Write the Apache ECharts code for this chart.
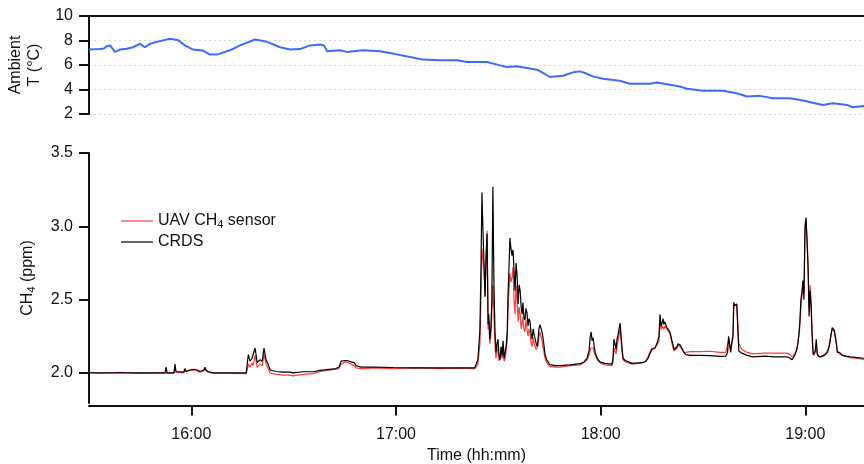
<!DOCTYPE html>
<html>
<head>
<meta charset="utf-8">
<script src="https://cdn.jsdelivr.net/npm/echarts@6/dist/echarts.min.js"></script>
<style>
  html, body { margin: 0; padding: 0; background: #fff; }
  #chart { width: 864px; height: 464px; }
</style>
</head>
<body>
<div id="chart"></div>
<script>
// Time is in minutes after 15:00.
const tempTime = [30.0, 33.2, 34.4, 35.3, 36.2, 37.0, 37.6, 39.1, 41.1, 42.9, 44.9, 46.4, 47.9, 50.8, 53.7, 56.1, 58.1,
  60.5, 63.4, 65.5, 67.5, 71.3, 74.3, 78.7, 82.2, 86.0, 88.9, 91.8, 94.8, 97.7, 98.9, 99.8, 103.6, 105.6, 110.3,
  115.3, 119.1, 124.1, 127.9, 132.9, 137.9, 140.8, 146.7, 150.5, 152.5, 155.4, 161.3, 163.1, 165.1, 168.9, 171.9,
  173.9, 175.4, 177.7, 180.7, 185.6, 188.6, 194.4, 196.5, 200.3, 203.2, 205.3, 210.0, 215.8, 219.9, 222.9, 226.7,
  230.5, 235.5, 239.3, 245.1, 248.1, 252.2, 253.9, 257.2];
const tempC = [7.26, 7.3, 7.35, 7.55, 7.6, 7.3, 7.07, 7.26, 7.32, 7.45, 7.73, 7.45, 7.73, 7.95, 8.14, 8.03, 7.6,
  7.26, 7.18, 6.85, 6.85, 7.2, 7.6, 8.08, 7.89, 7.45, 7.26, 7.3, 7.6, 7.67, 7.6, 7.12, 7.2, 7.07, 7.2,
  7.12, 6.93, 6.66, 6.44, 6.39, 6.39, 6.25, 6.25, 5.97, 5.84, 5.89, 5.62, 5.35, 5.02, 5.12, 5.4,
  5.48, 5.35, 5.07, 4.88, 4.72, 4.47, 4.47, 4.58, 4.38, 4.25, 4.06, 3.89, 3.89, 3.7, 3.43, 3.48,
  3.29, 3.29, 3.1, 2.74, 2.88, 2.74, 2.55, 2.66];

const ch4Time = [30.0, 33.2, 39.1, 44.9, 51.7, 52.3, 52.6, 52.9, 54.9, 55.2, 55.5, 55.8, 57.8, 58.1, 58.4, 59.6,
  60.8, 61.7, 62.5, 63.7, 64.0, 64.3, 64.9, 66.3, 71.3, 76.1, 76.4, 76.7, 77.2, 77.8, 78.1, 78.7, 79.3, 80.2,
  80.8, 81.3, 81.9, 82.5, 83.1, 84.9, 86.9, 88.9, 89.8, 92.8, 95.7, 97.8, 102.4, 103.3, 103.9, 105.1, 106.0,
  106.8, 107.7, 108.3, 109.8, 110.9, 113.3, 119.2, 125.0, 132.9, 138.7, 143.1,
  144.0, 144.6, 144.9, 145.2, 145.5, 145.8, 146.1, 146.4, 146.7, 147.0, 147.2, 147.5, 147.8, 148.1, 148.4,
  148.7, 149.0, 149.3, 149.6, 149.9, 150.2, 150.5, 150.8, 151.1, 151.4, 151.7, 152.0, 152.3, 152.6, 152.8,
  153.1, 153.4, 153.7, 154.0, 154.3, 154.6, 154.9, 155.2, 155.5, 155.8, 156.1, 156.4, 156.7, 157.0, 157.2,
  157.5, 157.8, 158.1, 158.4, 158.7, 159.0, 159.3, 159.6, 159.9, 160.2, 160.5, 160.8, 161.1, 161.4, 161.6,
  161.9, 162.2, 162.5, 162.8, 163.1, 163.7, 164.2, 165.1, 166.6, 168.0, 171.0, 173.9, 175.1, 176.0, 176.6,
  176.9, 177.2, 177.5, 177.8, 178.1, 178.4, 179.0, 179.8, 181.2, 183.3, 183.6, 183.9, 184.2, 184.5, 184.8,
  185.1, 185.4, 185.7, 186.0, 186.3, 186.6, 187.2, 187.7, 189.2, 192.4, 193.3, 193.9, 194.4, 195.0, 195.9,
  196.5, 197.1, 197.4, 197.7, 198.0, 198.3, 198.5, 198.8, 199.4, 199.7, 200.3, 200.9, 201.5, 201.8, 202.4,
  202.7, 203.3, 203.8, 204.4, 205.0, 206.2, 209.1, 212.0, 214.9, 216.7, 217.2, 217.5, 217.8, 218.1, 218.4,
  218.8, 219.0, 219.3, 219.6, 219.9, 220.2, 220.5, 221.4, 222.9, 224.6, 228.1, 231.1, 234.6, 235.5, 236.1,
  236.9, 237.5, 237.8, 238.1, 238.4, 238.7, 239.0, 239.3, 239.6, 239.9, 240.2, 240.5, 240.8, 241.1, 241.4,
  241.7, 242.0, 242.3, 242.6, 242.9, 243.2, 243.5, 243.8, 244.4, 245.6, 246.5, 247.0, 247.6, 247.9, 248.2,
  248.5, 249.1, 249.4, 250.0, 250.3, 250.9, 251.7, 253.2, 255.3, 257.2];

const crdsPpm = [2.0, 2.0, 2.001, 2.0, 2.0, 2.0, 2.04, 2.0, 2.0, 2.06, 2.01, 2.0, 2.005, 2.03, 2.01, 2.02,
  2.025, 2.02, 2.01, 2.02, 2.04, 2.02, 2.01, 2.0, 2.0, 2.0, 2.0, 2.125, 2.08, 2.1, 2.09, 2.17, 2.07, 2.09,
  2.08, 2.17, 2.09, 2.06, 2.02, 2.01, 2.005, 2.005, 2.0, 2.008, 2.008, 2.018, 2.03, 2.04, 2.08, 2.085, 2.083,
  2.075, 2.07, 2.05, 2.04, 2.04, 2.04, 2.037, 2.035, 2.035, 2.035, 2.035,
  2.09, 2.29, 2.7, 3.23, 2.97, 2.75, 2.52, 2.8, 2.95, 2.33, 2.4, 2.23, 2.3, 2.5, 3.27,
  2.63, 2.3, 2.14, 2.2, 2.23, 2.12, 2.09, 2.18, 2.12, 2.22, 2.1, 2.14, 2.19, 2.27, 2.5,
  2.7, 2.92, 2.85, 2.8, 2.84, 2.7, 2.56, 2.75, 2.67, 2.47, 2.6, 2.56, 2.45, 2.4, 2.48,
  2.38, 2.36, 2.44, 2.41, 2.32, 2.37, 2.35, 2.27, 2.23, 2.3, 2.26, 2.25, 2.2, 2.18, 2.22,
  2.3, 2.33, 2.32, 2.28, 2.24, 2.125, 2.09, 2.057, 2.05, 2.05, 2.055, 2.063, 2.075, 2.1, 2.15,
  2.24, 2.28, 2.22, 2.24, 2.18, 2.14, 2.1, 2.075, 2.065, 2.06, 2.1, 2.23, 2.2, 2.16, 2.23,
  2.26, 2.3, 2.34, 2.25, 2.16, 2.1, 2.085, 2.08, 2.065, 2.07, 2.08, 2.1, 2.13, 2.16, 2.17,
  2.2, 2.25, 2.4, 2.32, 2.34, 2.37, 2.33, 2.35, 2.31, 2.32, 2.28, 2.22, 2.16, 2.15, 2.18,
  2.2, 2.19, 2.17, 2.14, 2.125, 2.12, 2.12, 2.118, 2.113, 2.115, 2.14, 2.25, 2.2, 2.14, 2.2,
  2.26, 2.48, 2.46, 2.45, 2.47, 2.3, 2.15, 2.135, 2.12, 2.11, 2.115, 2.11, 2.11, 2.1, 2.09,
  2.12, 2.16, 2.2, 2.26, 2.35, 2.5, 2.55, 2.63, 2.5, 3.0, 3.06, 2.9, 2.72, 2.385, 2.56,
  2.45, 2.25, 2.125, 2.12, 2.15, 2.23, 2.13, 2.115, 2.11, 2.12, 2.14, 2.18, 2.27, 2.31, 2.3,
  2.29, 2.2, 2.14, 2.14, 2.15, 2.12, 2.115, 2.11, 2.105, 2.1];

const uavPpm = [2.003, 1.998, 2.004, 1.997, 2.0, 1.998, 2.01, 2.0, 1.998, 2.03, 2.005, 2.0, 2.0, 2.015, 2.005, 2.015,
  2.02, 2.015, 2.005, 2.015, 2.03, 2.015, 2.005, 1.998, 1.997, 1.995, 1.995, 2.06, 2.04, 2.07, 2.05, 2.12, 2.04, 2.06,
  2.05, 2.13, 2.06, 2.03, 2.0, 1.99, 1.985, 1.985, 1.98, 1.99, 1.995, 2.01, 2.025, 2.03, 2.06, 2.075, 2.07,
  2.06, 2.05, 2.035, 2.03, 2.03, 2.035, 2.03, 2.035, 2.03, 2.032, 2.03,
  2.06, 2.2, 2.5, 2.85, 2.86, 2.7, 2.52, 2.75, 2.97, 2.3, 2.35, 2.2, 2.25, 2.4, 2.6,
  2.4, 2.2, 2.1, 2.15, 2.18, 2.08, 2.07, 2.13, 2.1, 2.15, 2.08, 2.1, 2.15, 2.22, 2.4,
  2.55, 2.68, 2.62, 2.65, 2.72, 2.5, 2.4, 2.6, 2.5, 2.35, 2.45, 2.4, 2.3, 2.3, 2.38,
  2.3, 2.28, 2.36, 2.3, 2.25, 2.3, 2.28, 2.2, 2.18, 2.24, 2.2, 2.2, 2.16, 2.15, 2.18,
  2.24, 2.28, 2.27, 2.22, 2.18, 2.1, 2.07, 2.045, 2.04, 2.04, 2.05, 2.055, 2.07, 2.09, 2.12,
  2.15, 2.17, 2.16, 2.17, 2.14, 2.12, 2.09, 2.07, 2.055, 2.05, 2.07, 2.17, 2.15, 2.13, 2.18,
  2.22, 2.26, 2.3, 2.22, 2.13, 2.09, 2.075, 2.07, 2.06, 2.07, 2.085, 2.11, 2.14, 2.17, 2.17,
  2.19, 2.22, 2.34, 2.3, 2.32, 2.33, 2.3, 2.32, 2.3, 2.3, 2.27, 2.2, 2.15, 2.14, 2.17,
  2.19, 2.18, 2.16, 2.14, 2.14, 2.145, 2.145, 2.148, 2.14, 2.14, 2.15, 2.22, 2.19, 2.15, 2.19,
  2.24, 2.44, 2.46, 2.45, 2.46, 2.35, 2.2, 2.16, 2.14, 2.13, 2.135, 2.135, 2.135, 2.125, 2.11,
  2.13, 2.16, 2.2, 2.25, 2.32, 2.45, 2.52, 2.6, 2.55, 2.95, 3.03, 2.92, 2.75, 2.45, 2.6,
  2.48, 2.28, 2.14, 2.12, 2.14, 2.18, 2.13, 2.115, 2.11, 2.125, 2.15, 2.19, 2.27, 2.3, 2.3,
  2.28, 2.2, 2.15, 2.13, 2.14, 2.12, 2.115, 2.105, 2.1, 2.09];

const hourTicks = [60, 120, 180, 240];
const ppmTicks = [2.0, 2.5, 3.0, 3.5];
const tempTicks = [2, 4, 6, 8, 10];

const FONT = 'Liberation Sans, Arial, sans-serif';
const INK = '#111';

function zip(xs, ys) { return xs.map((x, i) => [x, ys[i]]); }
function clock(m) {
  const h = 15 + Math.floor(m / 60);
  const mm = Math.round(m % 60);
  return h + ':' + String(mm).padStart(2, '0');
}

const timeRange = { min: 30, max: 257.2 };
const axisLineStyle = { color: INK, width: 2 };

const chart = echarts.init(document.getElementById('chart'), null, { renderer: 'canvas' });
chart.setOption({
  animation: false,
  backgroundColor: '#fff',
  textStyle: { fontFamily: FONT, color: INK },
  grid: [
    { left: 89, right: 0, top: 16, height: 98, outerBoundsMode: 'none' },
    { left: 89, right: 0, top: 153, height: 250, outerBoundsMode: 'none' }
  ],
  legend: {
    data: ['UAV CH4 sensor', 'CRDS'],
    orient: 'vertical',
    left: 116,
    top: 208,
    itemGap: 4,
    itemWidth: 32,
    itemHeight: 1.2,
    icon: 'rect',
    textStyle: {
      fontFamily: FONT, fontSize: 16, color: INK,
      rich: {
        n: { fontFamily: FONT, fontSize: 16, color: INK },
        s: { fontFamily: FONT, fontSize: 11, color: INK, verticalAlign: 'bottom', padding: [7, 0, 0, 0] }
      }
    },
    formatter: name => name === 'UAV CH4 sensor' ? '{n|UAV CH}{s|4}{n| sensor}' : '{n|' + name + '}'
  },
  xAxis: [
    {
      gridIndex: 0, type: 'value', position: 'top', ...timeRange,
      axisLine: { show: true, lineStyle: axisLineStyle },
      axisTick: { show: false }, axisLabel: { show: false }, splitLine: { show: false }
    },
    {
      gridIndex: 1, type: 'value', position: 'bottom', offset: 2.5, ...timeRange,
      name: 'Time (hh:mm)', nameLocation: 'middle', nameGap: 41,
      nameTextStyle: { fontFamily: FONT, fontSize: 16, color: INK },
      axisLine: { show: true, lineStyle: axisLineStyle },
      axisTick: { show: true, customValues: hourTicks, length: 10, inside: false, lineStyle: { color: INK, width: 2 } },
      axisLabel: { customValues: hourTicks, formatter: v => clock(v), margin: 21, fontFamily: FONT, fontSize: 16, color: INK },
      splitLine: { show: false }
    }
  ],
  yAxis: [
    {
      gridIndex: 0, type: 'value', min: 2, max: 10, interval: 2,
      name: 'Ambient\nT (°C)', nameLocation: 'middle', nameGap: 39,
      nameTextStyle: { fontFamily: FONT, fontSize: 16, color: INK, lineHeight: 19 },
      axisLine: { show: true, lineStyle: axisLineStyle },
      axisTick: { show: true, length: 10, lineStyle: { color: INK, width: 2 } },
      axisLabel: { margin: 16, fontFamily: FONT, fontSize: 16, color: INK, customValues: tempTicks },
      splitLine: { show: true, lineStyle: { color: '#d9d9d9', type: [2, 3], width: 1 } }
    },
    {
      gridIndex: 1, type: 'value', min: 1.795, max: 3.5,
      name: '{n|CH}{s|4}{n| (ppm)}', nameLocation: 'middle', nameGap: 52,
      nameTextStyle: {
        fontFamily: FONT, fontSize: 16, color: INK,
        rich: {
          n: { fontFamily: FONT, fontSize: 16, color: INK },
          s: { fontFamily: FONT, fontSize: 11, color: INK, verticalAlign: 'bottom', padding: [7, 0, 0, 0] }
        }
      },
      axisLine: { show: true, lineStyle: axisLineStyle },
      axisTick: { show: true, customValues: ppmTicks, length: 10, lineStyle: { color: INK, width: 2 } },
      axisLabel: { customValues: ppmTicks, formatter: v => v.toFixed(1), margin: 16, fontFamily: FONT, fontSize: 16, color: INK },
      splitLine: { show: false }
    }
  ],
  series: [
    {
      name: 'Ambient T', type: 'line', xAxisIndex: 0, yAxisIndex: 0,
      data: zip(tempTime, tempC), showSymbol: false, color: '#3d6bff',
      lineStyle: { color: '#3d6bff', width: 2 }
    },
    {
      name: 'UAV CH4 sensor', type: 'line', xAxisIndex: 1, yAxisIndex: 1,
      data: zip(ch4Time, uavPpm), showSymbol: false, color: '#ff3a3a',
      lineStyle: { color: '#ff3a3a', width: 1.2 }
    },
    {
      name: 'CRDS', type: 'line', xAxisIndex: 1, yAxisIndex: 1,
      data: zip(ch4Time, crdsPpm), showSymbol: false, color: '#000',
      lineStyle: { color: '#000', width: 1.2 }
    }
  ]
});
</script>
</body>
</html>
